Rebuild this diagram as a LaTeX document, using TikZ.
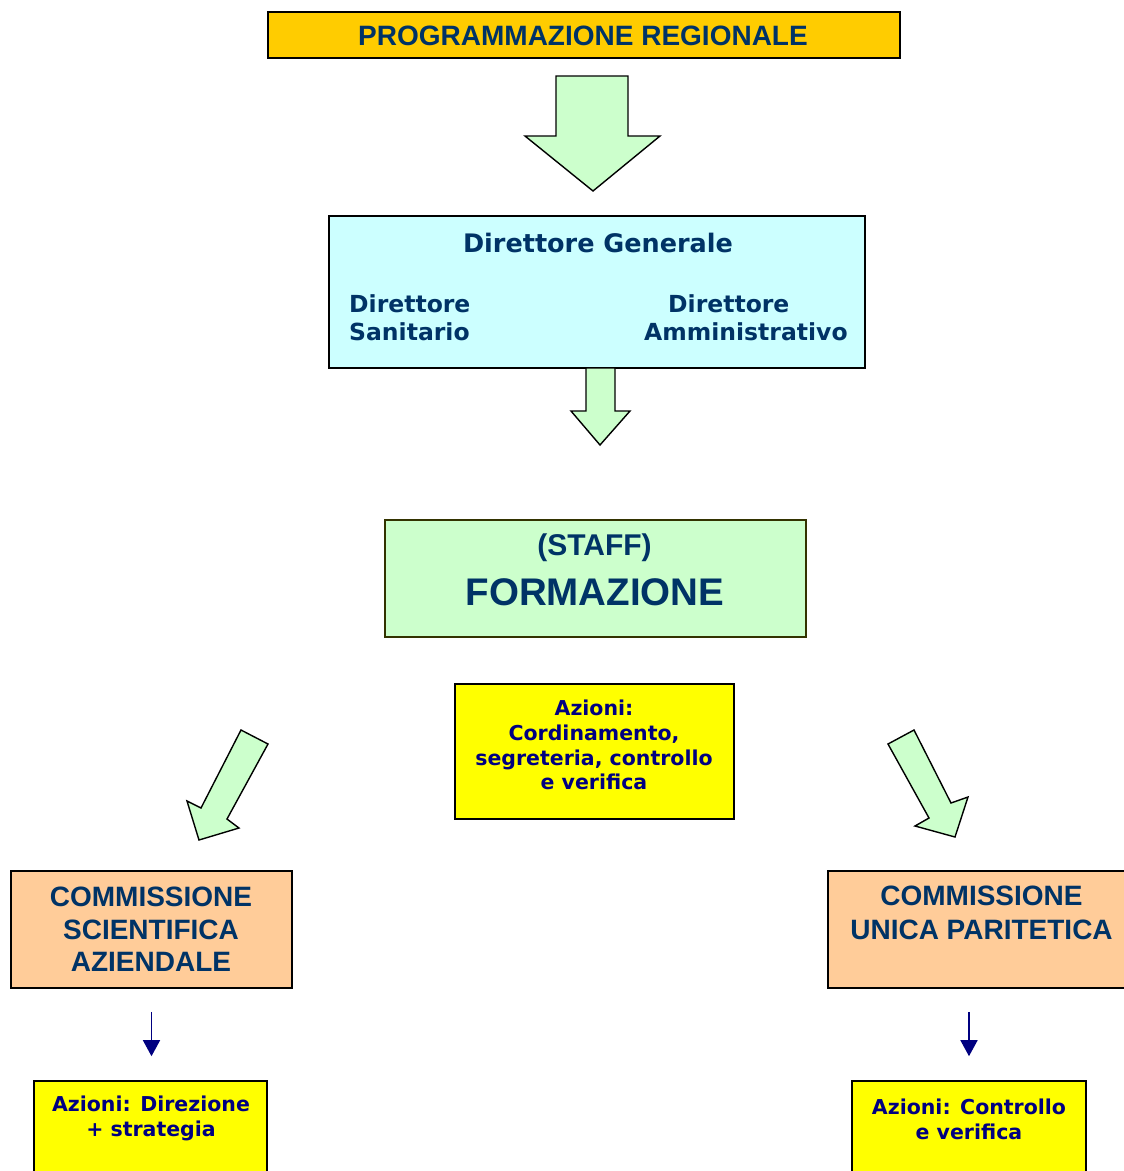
\documentclass[tikz,border=0pt]{standalone}
\usepackage{fontspec}
\setmainfont{Liberation Sans}
\newfontfamily\verd{DejaVu Sans}
\usetikzlibrary{arrows.meta}
\definecolor{txtblue}{HTML}{003366}
\definecolor{navytxt}{HTML}{000080}
\definecolor{gold}{HTML}{FFCC00}
\definecolor{lightcyan}{HTML}{CCFFFF}
\definecolor{lightgreen}{HTML}{CCFFCC}
\definecolor{peach}{HTML}{FFCC99}
\definecolor{yel}{HTML}{FFFF00}
\definecolor{olive}{HTML}{333300}
\tikzset{
  boxnode/.style={draw=black, line width=1.6pt, rectangle, inner sep=0pt},
  blockarrow/.style={draw=black, line width=1.4pt, fill=lightgreen, line join=miter},
  headtxt/.style={text=txtblue, font=\bfseries, inner sep=0pt, align=center},
  verdtxt/.style={text=txtblue, font=\verd\bfseries, inner sep=0pt},
  actxt/.style={text=navytxt, font=\verd\bfseries, inner sep=0pt, align=center},
  navyarrow/.style={draw=navytxt, line width=1.5pt, -{Triangle[width=17pt,length=16pt]}}
}
\begin{document}
\begin{tikzpicture}[x=1pt,y=-1pt]
\useasboundingbox (0,0) rectangle (1124,1171);
\clip (0,0) rectangle (1124,1171);
\fill[white] (0,0) rectangle (1124,1171);

% top box
\node[boxnode, fill=gold, minimum width=632pt, minimum height=46pt] (prog) at (584,35) {};
\node[headtxt, font=\bfseries\fontsize{28}{33}\selectfont] (progt) at (583,36) {PROGRAMMAZIONE REGIONALE};

% big arrow
\draw[blockarrow] (556,76) -- (628,76) -- (628,136) -- (660,136) -- (593,191) -- (525,136) -- (556,136) -- cycle;

% DG box
\node[boxnode, fill=lightcyan, minimum width=536pt, minimum height=152pt] (dg) at (597,292) {};
\node[verdtxt, font=\verd\bfseries\fontsize{25.5}{28}\selectfont] (dgt) at (598,243) {Direttore Generale};
\node[verdtxt, font=\verd\bfseries\fontsize{23.5}{28}\selectfont, align=left, anchor=west] (ds) at (349,318) {Direttore\\Sanitario};
\node[verdtxt, font=\verd\bfseries\fontsize{23.5}{28}\selectfont, align=left, anchor=west] (da) at (644,318) {\hspace*{24pt}Direttore\\Amministrativo};

% small arrow
\draw[blockarrow] (586,368) -- (615,368) -- (615,411) -- (630,411) -- (600,445) -- (571,411) -- (586,411) -- cycle;

% staff box
\node[draw=olive, line width=1.6pt, rectangle, inner sep=0pt, fill=lightgreen, minimum width=421pt, minimum height=117pt] (staff) at (595.5,578.5) {};
\node[headtxt, font=\bfseries\fontsize{30}{34}\selectfont] (stafft) at (594.5,547.5) {(STAFF)};
\node[headtxt, font=\bfseries\fontsize{38.5}{42}\selectfont] (form) at (595,592) {FORMAZIONE};

% central actions
\node[boxnode, fill=yel, minimum width=279pt, minimum height=135pt] (azc) at (594.5,751.5) {};
\node[actxt, font=\verd\bfseries\fontsize{20.5}{24.7}\selectfont] (azct) at (594,745) {Azioni:\\Cordinamento,\\segreteria, controllo\\e verifica};

% diagonal arrows
\draw[blockarrow] (241,730) -- (268,744) -- (227,819) -- (239,828) -- (199,840) -- (187,801) -- (201,808) -- cycle;
\draw[blockarrow] (888,744) -- (914,730) -- (951,803) -- (968,797) -- (955,837) -- (915,826) -- (929,818) -- cycle;

% commissions
\node[boxnode, fill=peach, minimum width=281pt, minimum height=117pt] (csa) at (151.5,929.5) {};
\node[headtxt, font=\bfseries\fontsize{28}{32.5}\selectfont] (csat) at (151,929.5) {COMMISSIONE\\SCIENTIFICA\\AZIENDALE};
\node[boxnode, fill=peach, minimum width=310pt, minimum height=117pt] (cup) at (983,929.5) {};
\node[headtxt, font=\bfseries\fontsize{28}{34}\selectfont] (cupt) at (981.5,912.5) {COMMISSIONE\\UNICA PARITETICA};

% bottom action boxes
\node[boxnode, fill=yel, minimum width=233pt, minimum height=110pt] (azl) at (150.5,1136) {};
\node[actxt, font=\verd\bfseries\fontsize{20.5}{25}\selectfont] (azlt) at (151,1118) {Azioni: Direzione\\+ strategia};
\node[boxnode, fill=yel, minimum width=234pt, minimum height=110pt] (azr) at (969,1136) {};
\node[actxt, font=\verd\bfseries\fontsize{20.5}{25}\selectfont] (azrt) at (969,1119.5) {Azioni: Controllo\\e verifica};

% navy arrows
\draw[navyarrow, shorten <=23pt, shorten >=24pt] (csa.south) -- (csa.south |- azl.north);
\draw[navyarrow, shorten <=23pt, shorten >=24pt] (azr.north |- cup.south) -- (azr.north);
\end{tikzpicture}
\end{document}
